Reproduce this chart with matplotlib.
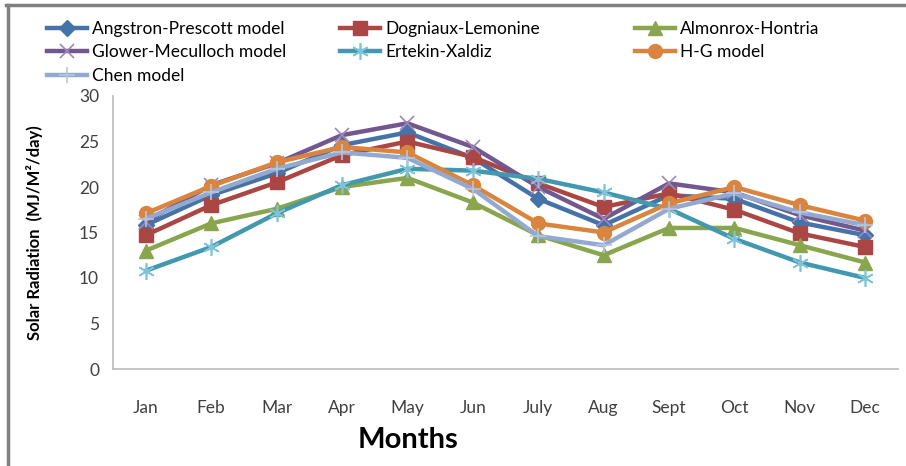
import matplotlib
matplotlib.use("Agg")
import matplotlib.pyplot as plt
from matplotlib.lines import Line2D

plt.rcParams['font.family'] = ['Lato', 'DejaVu Sans']

# months on x axis
months = ['Jan', 'Feb', 'Mar', 'Apr', 'May', 'Jun', 'July', 'Aug', 'Sept', 'Oct', 'Nov', 'Dec']

# estimated solar radiation per model (MJ/M2/day)
angstron = [15.8, 19.1, 21.5, 24.6, 26.0, 23.2, 18.7, 15.8, 19.1, 18.7, 16.1, 14.7]
dogniaux = [14.7, 18.0, 20.5, 23.5, 25.0, 23.3, 20.4, 17.8, 19.3, 17.5, 14.9, 13.4]
almonrox = [13.0, 16.0, 17.6, 20.0, 21.0, 18.3, 14.7, 12.5, 15.5, 15.5, 13.6, 11.7]
glower = [16.2, 20.2, 22.6, 25.7, 27.0, 24.4, 20.0, 16.5, 20.4, 19.4, 16.9, 15.2]
ertekin = [10.8, 13.4, 17.1, 20.2, 22.0, 21.8, 20.9, 19.4, 17.6, 14.3, 11.7, 10.0]
hg = [17.1, 20.1, 22.7, 24.4, 23.8, 20.2, 16.0, 15.0, 18.2, 20.0, 18.0, 16.3]
chen = [16.5, 19.4, 22.0, 23.8, 23.2, 19.8, 14.6, 13.6, 17.6, 19.3, 17.2, 15.8]

fig = plt.figure(figsize=(9.06, 4.66), dpi=100)
ax = fig.add_axes([113/906, 1-369/466, (898-113)/906, (369-96)/466])

x = range(len(months))
lw = 3.2
h1 = ax.plot(x, angstron, color='#4572A7', lw=lw, marker='D', ms=8, label='Angstron-Prescott model')[0]
h2 = ax.plot(x, dogniaux, color='#AA4643', lw=lw, marker='s', ms=10, label='Dogniaux-Lemonine')[0]
h3 = ax.plot(x, almonrox, color='#89A54E', lw=lw, marker='^', ms=10, label='Almonrox-Hontria')[0]
h4 = ax.plot(x, glower, color='#71588F', lw=lw, marker='x', ms=10, mew=1.2,
             mec='#9C88B8', label='Glower-Meculloch model')[0]
h5 = ax.plot(x, ertekin, color='#4198AF', lw=lw, marker=(6, 2, 0), ms=12, mew=1.2,
             mec='#7FC3D8', label='Ertekin-Xaldiz')[0]
h6 = ax.plot(x, hg, color='#DB843D', lw=lw, marker='o', ms=10, label='H-G model')[0]
h7 = ax.plot(x, chen, color='#93A9CF', lw=lw, marker='+', ms=12, mew=1.2,
             mec='#B5C6E3', label='Chen model')[0]

ax.set_xlim(-0.5, 11.5)
ax.set_ylim(0, 30)
ax.set_yticks(range(0, 31, 5))
ax.set_xticks(list(x))
ax.set_xticklabels(months)
ax.tick_params(axis='both', length=0, labelsize=12.5, labelcolor='#404040')
ax.tick_params(axis='x', pad=22)
ax.tick_params(axis='y', pad=10)
for s in ['top', 'right']:
    ax.spines[s].set_visible(False)
for s in ['left', 'bottom']:
    ax.spines[s].set_color('#BFBFBF')
    ax.spines[s].set_linewidth(1.3)

ax.set_ylabel('Solar Radiation  (MJ/M\u00b2/day)', fontsize=12, fontweight='bold', labelpad=26)
fig.text(408/906, 1-440/466, 'Months', fontsize=21, fontweight='bold', ha='center', va='center')

# legend in three fixed columns like the excel layout
cols = [([h1, h4, h7], 47), ([h2, h5], 340), ([h3, h6], 635)]
for hs, xpos in cols:
    fig.legend(handles=hs, loc='upper left', bbox_to_anchor=(xpos/906, 1-21/466),
               frameon=False, fontsize=12.5, handlelength=2.3, handletextpad=0.3,
               labelspacing=0.42, borderpad=0, borderaxespad=0)

# outer chart border (top and left visible)
fig.add_artist(Line2D([6/906, 1], [1-5/466, 1-5/466], color='#808080', lw=2.5))
fig.add_artist(Line2D([8/906, 8/906], [0, 1-5/466], color='#808080', lw=2.5))

fig.savefig('out.png', dpi=100)
